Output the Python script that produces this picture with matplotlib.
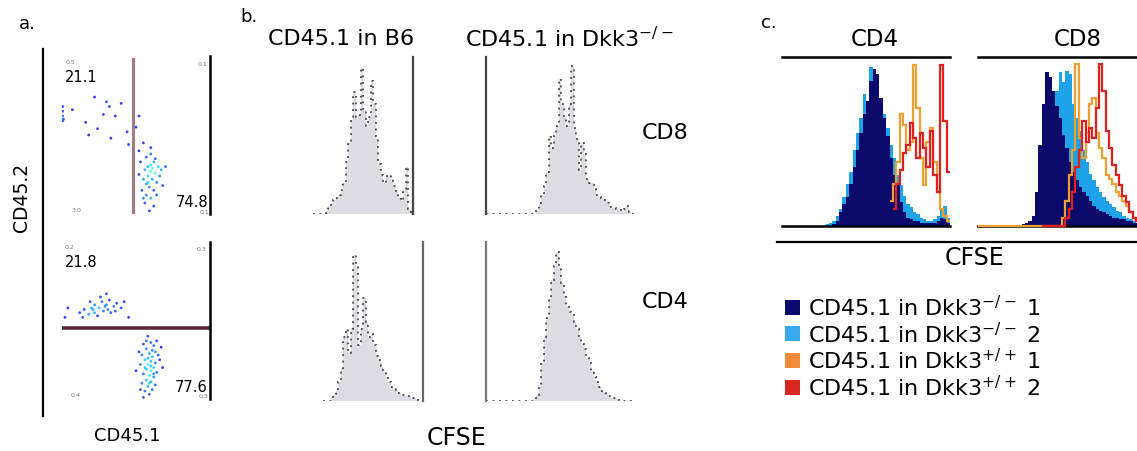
import numpy as np
import matplotlib
matplotlib.use('Agg')
import matplotlib.pyplot as plt
from matplotlib.lines import Line2D
from matplotlib.patches import Rectangle

W, H = 1137, 452
plt.rcParams['font.family'] = ['DejaVu Sans']
plt.rcParams['mathtext.fontset'] = 'dejavusans'

# ---------------- DATA ----------------
# Panel a: CD45.1 vs CD45.2 dot plots (scaled 0-1 axes)
dot_top_x = [0.07, 0.16, 0.30, 0.32, 0.28, 0.36, 0.24, 0.44, 0.45, 0.52, 0.22, 0.40, 0.18, 0.33, 0.01, 0.50,
             0.52, 0.55, 0.57, 0.60, 0.62, 0.58, 0.56, 0.60, 0.63, 0.65, 0.67, 0.61, 0.58, 0.55, 0.59, 0.62,
             0.57, 0.60, 0.54, 0.64, 0.66, 0.53, 0.56, 0.62, 0.59, 0.68, 0.52, 0.60, 0.63, 0.58, 0.61, 0.57,
             0.64, 0.55, 0.70, 0.60, 0.005, 0.005, 0.005, 0.005]
dot_top_y = [0.66, 0.58, 0.71, 0.68, 0.63, 0.62, 0.54, 0.52, 0.44, 0.62, 0.74, 0.70, 0.50, 0.48, 0.60, 0.55,
             0.40, 0.45, 0.36, 0.38, 0.33, 0.30, 0.28, 0.27, 0.26, 0.30, 0.28, 0.22, 0.20, 0.22, 0.17, 0.15,
             0.12, 0.10, 0.15, 0.20, 0.24, 0.33, 0.07, 0.05, 0.02, 0.18, 0.25, 0.31, 0.35, 0.24, 0.29, 0.19,
             0.12, 0.10, 0.30, 0.42, 0.62, 0.65, 0.59, 0.68]
dot_bot_x = [0.12, 0.15, 0.18, 0.20, 0.22, 0.25, 0.27, 0.30, 0.32, 0.35, 0.37, 0.40, 0.24, 0.28, 0.33, 0.19,
             0.26, 0.30, 0.42, 0.14, 0.22, 0.36, 0.45, 0.04, 0.02, 0.29, 0.31, 0.21,
             0.58, 0.60, 0.55, 0.62, 0.57, 0.63, 0.59, 0.54, 0.61, 0.65, 0.56, 0.60, 0.63, 0.58, 0.53, 0.62,
             0.57, 0.60, 0.64, 0.55, 0.59, 0.62, 0.57, 0.60, 0.54, 0.63, 0.58, 0.61, 0.56, 0.59, 0.66, 0.52,
             0.67, 0.50, 0.61, 0.58, 0.60, 0.56, 0.62, 0.59, 0.64, 0.57, 0.53, 0.68, 0.55]
dot_bot_y = [0.55, 0.57, 0.54, 0.58, 0.60, 0.58, 0.62, 0.60, 0.63, 0.59, 0.61, 0.58, 0.53, 0.56, 0.55, 0.62,
             0.65, 0.67, 0.62, 0.52, 0.55, 0.56, 0.52, 0.58, 0.52, 0.59, 0.57, 0.57,
             0.40, 0.36, 0.35, 0.34, 0.32, 0.30, 0.29, 0.28, 0.27, 0.28, 0.25, 0.24, 0.23, 0.22, 0.22, 0.20,
             0.19, 0.18, 0.17, 0.16, 0.15, 0.14, 0.12, 0.11, 0.10, 0.09, 0.08, 0.06, 0.05, 0.03, 0.25, 0.30,
             0.33, 0.18, 0.31, 0.26, 0.21, 0.20, 0.16, 0.10, 0.37, 0.37, 0.06, 0.20, 0.01]
gate_top_x = 0.48
gate_bot_y = 0.45
pct_top = ['21.1', '74.8']
pct_bot = ['21.8', '77.6']
pct_small_top = ['0.5', '0.1', '3.0', '0.1']
pct_small_bot = ['0.2', '0.3', '0.4', '0.3']

# Panel b: CFSE histograms (normalised counts per channel)
b6_cd8 = [0.0] * 5 + [0.02, 0.05, 0.07, 0.09, 0.10, 0.12, 0.15, 0.20, 0.33, 0.45,
                      0.60, 0.78, 0.62, 0.63, 0.93, 0.66, 0.56, 0.62, 0.85, 0.70,
                      0.48, 0.32, 0.25, 0.20, 0.24, 0.25, 0.22, 0.18, 0.14, 0.10,
                      0.08, 0.15, 0.30, 0.03, 0.01]
dkk_cd8 = [0.0] * 20 + [0.02, 0.07, 0.12, 0.18, 0.27, 0.50, 0.42, 0.50, 0.56, 0.86,
                        0.70, 0.62, 0.56, 0.70, 0.94, 0.55, 0.48, 0.28, 0.45, 0.38,
                        0.22, 0.20, 0.20, 0.16, 0.12, 0.11, 0.10, 0.09, 0.07, 0.05,
                        0.04, 0.04, 0.03, 0.03, 0.02, 0.03, 0.05, 0.01] + [0.0] * 2
b6_cd4 = [0.0] * 3 + [0.02, 0.04, 0.07, 0.12, 0.20, 0.40, 0.45, 0.30, 0.45, 0.92,
                      0.85, 0.35, 0.45, 0.65, 0.50, 0.40, 0.42, 0.35, 0.28, 0.26,
                      0.22, 0.18, 0.15, 0.12, 0.09, 0.08, 0.07, 0.05, 0.04, 0.04,
                      0.03, 0.03, 0.02, 0.02, 0.01] + [0.0] * 2
dkk_cd4 = [0.0] * 19 + [0.01, 0.04, 0.09, 0.24, 0.40, 0.52, 0.64, 0.76, 0.85, 0.94,
                        0.84, 0.74, 0.66, 0.60, 0.56, 0.55, 0.50, 0.45, 0.40, 0.36,
                        0.33, 0.27, 0.24, 0.19, 0.15, 0.12, 0.09, 0.06, 0.05, 0.04,
                        0.03, 0.02, 0.02, 0.01] + [0.0] * 7

# Panel c: overlaid CFSE histograms (nan = no events in channel)
nan = np.nan
navy_cd4 = [0.0] * 15 + [0.01, 0.03, 0.08, 0.13, 0.17, 0.25, 0.35, 0.45, 0.55, 0.66,
                         0.74, 0.86, 0.93, 0.90, 0.76, 0.64, 0.53, 0.40, 0.30, 0.24,
                         0.14, 0.08, 0.05, 0.04, 0.03, 0.03, 0.02, 0.02, 0.02, 0.02,
                         0.02, 0.03, 0.05, 0.04, 0.02]
lblue_cd4 = [0.0] * 13 + [0.01, 0.02, 0.03, 0.06, 0.10, 0.17, 0.25, 0.32, 0.45, 0.55,
                          0.64, 0.78, 0.70, 0.94, 0.88, 0.85, 0.75, 0.66, 0.58, 0.48,
                          0.40, 0.30, 0.24, 0.18, 0.13, 0.11, 0.08, 0.07, 0.05, 0.04,
                          0.03, 0.03, 0.04, 0.06, 0.10, 0.12, 0.05]
orange_cd4 = [nan] * 32 + [0.15, 0.25, 0.38, 0.66, 0.60, 0.45, 0.50, 0.95, 0.70, 0.40,
                           0.24, 0.50, 0.58, 0.38, 0.20, 0.10, 0.06, 0.03]
red_cd4 = [nan] * 33 + [0.10, 0.25, 0.33, 0.43, 0.48, 0.61, 0.52, 0.40, 0.55, 0.46,
                        0.35, 0.56, 0.30, 0.20, 0.95, 0.62, 0.32]
navy_cd8 = [0.0] * 13 + [0.01, 0.02, 0.03, 0.06, 0.20, 0.48, 0.72, 0.91, 0.88, 0.80,
                         0.71, 0.64, 0.54, 0.46, 0.38, 0.32, 0.27, 0.23, 0.20, 0.18,
                         0.15, 0.12, 0.10, 0.09, 0.08, 0.07, 0.06, 0.05, 0.05, 0.04,
                         0.04, 0.03, 0.03, 0.02, 0.02, 0.01, 0.01]
lblue_cd8 = [0.0] * 15 + [0.01, 0.03, 0.08, 0.20, 0.35, 0.50, 0.62, 0.74, 0.80, 0.91,
                          0.85, 0.92, 0.90, 0.72, 0.64, 0.56, 0.45, 0.38, 0.31, 0.27,
                          0.23, 0.20, 0.17, 0.15, 0.13, 0.11, 0.09, 0.08, 0.06, 0.05,
                          0.04, 0.03, 0.02, 0.02, 0.01]
orange_cd8 = [0.0] * 25 + [0.05, 0.15, 0.30, 0.45, 0.96, 0.52, 0.40, 0.55, 0.72, 0.76,
                           0.55, 0.46, 0.40, 0.30, 0.28, 0.25, 0.20, 0.18, 0.15, 0.12,
                           0.08, 0.05, 0.03, 0.02, 0.01]
red_cd8 = [nan] * 19 + [0.0] * 7 + [0.05, 0.10, 0.20, 0.35, 0.45, 0.62, 0.50, 0.58, 0.52, 0.70,
                                    0.96, 0.80, 0.56, 0.46, 0.36, 0.30, 0.24, 0.18, 0.14, 0.08,
                                    0.05, 0.03, 0.02, 0.01]

legend_labels = [r'CD45.1 in Dkk3$^{-/-}$ 1', r'CD45.1 in Dkk3$^{-/-}$ 2',
                 r'CD45.1 in Dkk3$^{+/+}$ 1', r'CD45.1 in Dkk3$^{+/+}$ 2']

# ---------------- STYLE ----------------
C_NAVY = '#0b0a6b'
C_LB = '#1fa3e8'
C_OR = '#f0a030'
C_RED = '#e0201e'
LEG_COLORS = ['#0a0a70', '#3aaaf0', '#f08a3a', '#d8281e']
GREY = '#dcdce2'

fig = plt.figure(figsize=(W / 100, H / 100), dpi=100)
fig.patch.set_facecolor('white')


def px_axes(x0, y0, x1, y1):
    ax = fig.add_axes([x0 / W, 1 - y1 / H, (x1 - x0) / W, (y1 - y0) / H])
    ax.set_xticks([])
    ax.set_yticks([])
    ax.patch.set_alpha(0)
    for s in ax.spines.values():
        s.set_visible(False)
    return ax


def ftext(x, y, s, **kw):
    kw.setdefault('va', 'center')
    kw.setdefault('ha', 'center')
    fig.text(x / W, 1 - y / H, s, **kw)


def fline(xs, ys, **kw):
    fig.add_artist(Line2D([x / W for x in xs], [1 - y / H for y in ys],
                          transform=fig.transFigure, **kw))


def density_colors(x, y):
    x = np.asarray(x)
    y = np.asarray(y)
    d = np.hypot(x[:, None] - x[None, :], y[:, None] - y[None, :])
    n = (d < 0.05).sum(1).astype(float)
    t = (n - n.min()) / max(n.max() - n.min(), 1)
    return plt.cm.jet(0.14 + 0.26 * t ** 1.5)


# ---------------- PANEL a ----------------
ftext(27, 24, 'a.', fontsize=13)
fline([43, 43], [50, 417], color='black', lw=1.6)
ftext(21, 197, 'CD45.2', fontsize=13.5, rotation=90)
ftext(127, 436, 'CD45.1', fontsize=13)

for (y0, y1, xs, ys, pct, small, gate) in [
        (57, 215, dot_top_x, dot_top_y, pct_top, pct_small_top, 'v'),
        (243, 400, dot_bot_x, dot_bot_y, pct_bot, pct_small_bot, 'h')]:
    ax = px_axes(62, y0, 210, y1)
    ax.set_xlim(0, 1)
    ax.set_ylim(0, 1)
    ax.spines['right'].set_visible(True)
    ax.spines['right'].set_linewidth(1.8)
    ax.scatter(xs, ys, s=4, c=density_colors(xs, ys), marker='o', linewidths=0, alpha=0.8)
    if gate == 'v':
        ax.axvline(gate_top_x, ymin=0, ymax=0.98, color='#a37c80', lw=2.2)
    else:
        ax.axhline(gate_bot_y, color='#5c2a3c', lw=2.6)
    ftext(81, y0 + 20, pct[0], fontsize=10.5)
    ftext(208, y1 - 12, pct[1], fontsize=10.5, ha='right')
    ftext(70, y0 + 5, small[0], fontsize=4.5, color='#777')
    ftext(202, y0 + 7, small[1], fontsize=4.5, color='#777')
    ftext(76, y1 - 4, small[2], fontsize=4.5, color='#777')
    ftext(204, y1 - 3, small[3], fontsize=4.5, color='#777')

# ---------------- PANEL b ----------------
ftext(249, 17, 'b.', fontsize=13)
ftext(341, 39, 'CD45.1 in B6', fontsize=16)
ftext(569, 39, r'CD45.1 in Dkk3$^{-/-}$', fontsize=16)
ftext(642, 133, 'CD8', fontsize=16, ha='left')
ftext(642, 302, 'CD4', fontsize=16, ha='left')
ftext(457, 438, 'CFSE', fontsize=17)


def grey_hist(ax, vals):
    vals = np.asarray(vals, dtype=float)
    edges = np.arange(len(vals) + 1)
    ax.stairs(vals, edges, fill=True, color=GREY, lw=0)
    ax.stairs(vals, edges, color='#2a2a2a', lw=1.3, ls=(0, (1, 2.6)), baseline=None, alpha=0.85)
    ax.set_xlim(0, len(vals))
    ax.set_ylim(0, 1)


for (box, vals, side, col) in [((313, 58, 413, 215), b6_cd8, 'right', '#444'),
                               ((486, 58, 636, 215), dkk_cd8, 'left', '#444'),
                               ((323, 243, 423, 402), b6_cd4, 'right', '#666'),
                               ((486, 243, 636, 402), dkk_cd4, 'left', '#777')]:
    ax = px_axes(*box)
    grey_hist(ax, vals)
    ax.spines[side].set_visible(True)
    ax.spines[side].set_color(col)
    ax.spines[side].set_linewidth(1.6)

# ---------------- PANEL c ----------------
ftext(769, 23, 'c.', fontsize=13)
ftext(875, 39, 'CD4', fontsize=16.5)
ftext(1078, 39, 'CD8', fontsize=16.5)


def c_hist(ax, navy, lblue, orange, red):
    edges = np.arange(len(navy) + 1)
    ax.stairs(np.asarray(lblue, float), edges, fill=True, color=C_LB, lw=0)
    ax.stairs(np.asarray(navy, float), edges, fill=True, color=C_NAVY, lw=0)
    ax.stairs(np.ma.masked_invalid(np.asarray(orange, float)), edges, color=C_OR, lw=1.6,
              baseline=None, zorder=3, clip_on=False)
    ax.stairs(np.ma.masked_invalid(np.asarray(red, float)), edges, color=C_RED, lw=1.6,
              baseline=None, zorder=3, clip_on=False)
    ax.set_xlim(0, len(navy))
    ax.set_ylim(0, 1)
    for s in ('top', 'bottom'):
        ax.spines[s].set_visible(True)
        ax.spines[s].set_linewidth(1.8)


ax = px_axes(782, 58, 950, 227)
c_hist(ax, navy_cd4, lblue_cd4, orange_cd4, red_cd4)
ax = px_axes(978, 58, 1146, 227)
c_hist(ax, navy_cd8, lblue_cd8, orange_cd8, red_cd8)

fline([777, 1137], [243, 243], color='black', lw=1.6)
ftext(975, 258, 'CFSE', fontsize=17)

# legend (colour key)
for i, (lab, col) in enumerate(zip(legend_labels, LEG_COLORS)):
    yc = 308 + 26.8 * i
    fig.patches.append(Rectangle((785 / W, 1 - (yc + 7.5) / H), 15 / W, 15 / H,
                                 transform=fig.transFigure, facecolor=col, edgecolor='none'))
    ftext(808, yc + 8, lab, fontsize=16, ha='left', va='baseline')

fig.savefig('out.png', dpi=100)
